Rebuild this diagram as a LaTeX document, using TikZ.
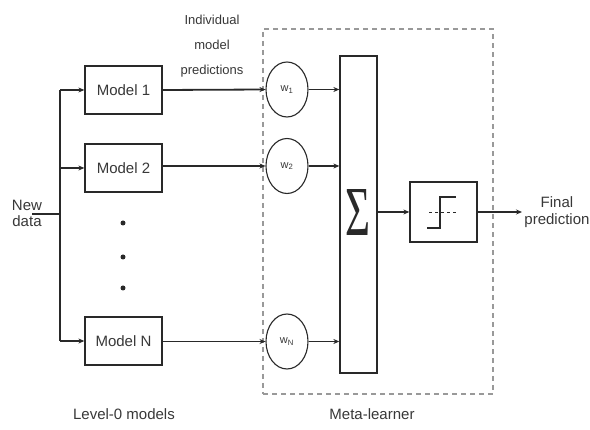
\documentclass[tikz,border=0pt]{standalone}
\usepackage{fontspec}
\setmainfont{Liberation Sans}
\newfontfamily\sigfont{Liberation Serif}
\usetikzlibrary{arrows.meta,shapes.geometric,calc}
\definecolor{ink}{rgb}{0.16,0.16,0.16}
\definecolor{txt}{rgb}{0.22,0.22,0.22}
\begin{document}
\begin{tikzpicture}[x=1pt,y=-1pt,
  line width=1.3pt, draw=ink,
  modelbox/.style={draw=ink, line width=1.3pt, minimum width=77pt, minimum height=48pt, inner sep=0pt, font=\fontsize{15}{15}\selectfont, text=txt},
  weight/.style={ellipse, draw=ink, line width=1.1pt, minimum width=42pt, minimum height=55pt, inner sep=0pt, font=\fontsize{11}{11}\selectfont, text=txt},
  label/.style={font=\fontsize{15}{17}\selectfont, text=txt, align=center, inner sep=0pt},
  small/.style={font=\fontsize{13}{25}\selectfont, text=txt, align=center, inner sep=0pt},
  arr/.style={-{Stealth[length=6pt,width=5pt]}, line width=1.3pt, draw=ink},
  dotnode/.style={circle, fill=ink, minimum size=5pt, inner sep=0pt}
]
\useasboundingbox (0,0) rectangle (590,430);
\fill[white] (0,0) rectangle (590,430);

% meta-learner frame
\node[draw=gray!80, dashed, dash pattern=on 5pt off 4pt, line width=1.1pt, minimum width=230pt, minimum height=365pt, inner sep=0pt] (meta) at (378,211.5) {};

% models
\node[modelbox] (m1) at (123.5,90) {Model 1};
\node[modelbox] (m2) at (123.5,168) {Model 2};
\node[modelbox] (mN) at (123.5,341) {Model N};

\node[dotnode] (d1) at (123,223) {};
\node[dotnode] (d2) at (123,257) {};
\node[dotnode] (d3) at (123,288) {};

% weights
\node[weight] (w1) at (287,89.5) {w\textsubscript{1}};
\node[weight] (w2) at (287,166) {w\textsubscript{2}};
\node[weight] (wN) at (287,341.5) {w\textsubscript{N}};

% sum and step
\node[draw=ink, line width=1.3pt, minimum width=37pt, minimum height=317pt, inner sep=0pt] (sum) at (358.5,214.5) {};
\node[inner sep=0pt, text=ink] (sig) at (358,212) {\resizebox{25pt}{46pt}{\sigfont Σ}};
\node[draw=ink, line width=1.3pt, minimum width=67pt, minimum height=60pt, inner sep=0pt] (step) at (443.5,212) {};

% step symbol
\coordinate (s0) at (427,228);
\coordinate (s1) at (440,228);
\coordinate (s2) at (440,197);
\coordinate (s3) at (456,197);
\draw[line width=2.2pt, ink] (s0) -- (s1) -- (s2) -- (s3);
\coordinate (h0) at (429,212);
\coordinate (h1) at (457,212);
\draw[line width=0.9pt, dashed, dash pattern=on 3pt off 3pt, ink] (h0) -- (h1);

% input bus
\coordinate (busTop) at (60,90);
\coordinate (busBot) at (60,341);
\coordinate (busMid) at (60,214);
\coordinate (inEnd) at (32,214);
\draw (busTop) -- (busBot);
\draw (inEnd) -- (busMid);
\draw[arr] (busTop) -- (m1.west);
\draw[arr] (busTop |- m2.west) -- (m2.west);
\draw[arr] (busBot) -- (mN.west);

% model to weights
\draw[arr, line width=1.8pt] (m1.east) -- (w1.west);
\draw[arr] (m2.east |- w2.west) -- (w2.west);
\draw[arr] (mN.east |- wN.west) -- (wN.west);

% weights to sum
\draw[arr] (w1.east) -- (w1.east -| sum.west);
\draw[arr] (w2.east) -- (w2.east -| sum.west);
\draw[arr] (wN.east) -- (wN.east -| sum.west);

% sum to step to output
\draw[arr] (step.west -| sum.east) -- (step.west);
\coordinate (outEnd) at (522,212);
\draw[arr] (step.east) -- (outEnd);

% texts
\node[label] (newdata) at (27,213) {New\\[-1pt]data};
\node[small] (indiv) at (212,46) {Individual\\model\\predictions};
\node[label] (final) at (557,212) {Final\\prediction};
\node[label] (lvl) at (124,414) {Level-0 models};
\node[label] (ml) at (372,414) {Meta-learner};
\end{tikzpicture}
\end{document}
